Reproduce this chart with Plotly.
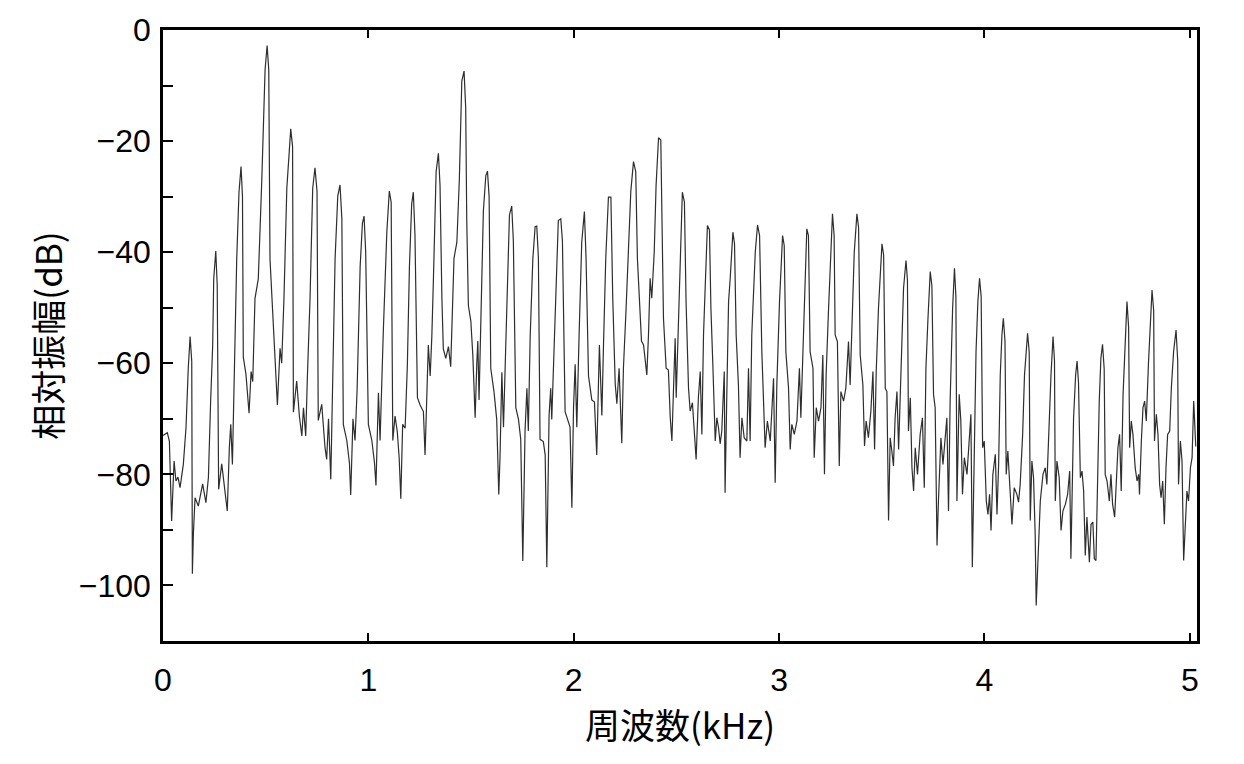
import plotly.graph_objects as go

# Frequency (kHz) and relative amplitude (dB)
freq_khz = [
    0.000, 0.021, 0.031, 0.042, 0.054, 0.063, 0.073, 0.083, 0.099, 0.112,
    0.123, 0.132, 0.140, 0.143, 0.148, 0.156, 0.172, 0.193, 0.209, 0.221,
    0.232, 0.242, 0.247, 0.257, 0.264, 0.271, 0.286, 0.297, 0.313, 0.323,
    0.330, 0.338, 0.346, 0.359, 0.370, 0.380, 0.387, 0.391, 0.404, 0.419,
    0.429, 0.437, 0.448, 0.464, 0.481, 0.497, 0.507, 0.515, 0.521, 0.537,
    0.557, 0.570, 0.578, 0.589, 0.603, 0.622, 0.631, 0.635, 0.651, 0.664,
    0.676, 0.684, 0.695, 0.703, 0.716, 0.729, 0.740, 0.750, 0.756, 0.773,
    0.789, 0.797, 0.806, 0.817, 0.827, 0.838, 0.851, 0.862, 0.871, 0.878,
    0.895, 0.908, 0.914, 0.925, 0.935, 0.945, 0.960, 0.971, 0.979, 0.987,
    1.000, 1.017, 1.030, 1.037, 1.049, 1.057, 1.073, 1.090, 1.102, 1.111,
    1.119, 1.130, 1.141, 1.150, 1.158, 1.167, 1.179, 1.190, 1.200, 1.211,
    1.219, 1.227, 1.239, 1.252, 1.268, 1.276, 1.283, 1.292, 1.301, 1.309,
    1.317, 1.330, 1.341, 1.349, 1.358, 1.365, 1.377, 1.390, 1.401, 1.406,
    1.417, 1.431, 1.443, 1.455, 1.466, 1.474, 1.479, 1.487, 1.499, 1.509,
    1.520, 1.528, 1.533, 1.539, 1.549, 1.560, 1.572, 1.580, 1.588, 1.596,
    1.612, 1.625, 1.635, 1.641, 1.650, 1.658, 1.666, 1.674, 1.687, 1.698,
    1.706, 1.718, 1.731, 1.742, 1.752, 1.763, 1.772, 1.779, 1.788, 1.801,
    1.812, 1.820, 1.828, 1.836, 1.852, 1.861, 1.869, 1.880, 1.888, 1.893,
    1.901, 1.914, 1.925, 1.937, 1.945, 1.958, 1.971, 1.982, 1.991, 1.999,
    2.007, 2.015, 2.026, 2.039, 2.052, 2.060, 2.072, 2.088, 2.101, 2.112,
    2.125, 2.137, 2.145, 2.156, 2.169, 2.181, 2.190, 2.202, 2.210, 2.221,
    2.234, 2.242, 2.254, 2.266, 2.278, 2.291, 2.302, 2.310, 2.320, 2.330,
    2.340, 2.356, 2.364, 2.372, 2.380, 2.392, 2.401, 2.413, 2.424, 2.429,
    2.437, 2.450, 2.461, 2.470, 2.478, 2.486, 2.494, 2.499, 2.510, 2.518,
    2.529, 2.539, 2.547, 2.559, 2.567, 2.578, 2.588, 2.596, 2.607, 2.616,
    2.624, 2.632, 2.640, 2.651, 2.661, 2.668, 2.678, 2.689, 2.697, 2.705,
    2.713, 2.721, 2.733, 2.737, 2.746, 2.754, 2.762, 2.775, 2.783, 2.791,
    2.802, 2.810, 2.819, 2.830, 2.843, 2.851, 2.859, 2.867, 2.884, 2.895,
    2.905, 2.916, 2.932, 2.943, 2.957, 2.968, 2.973, 2.981, 2.989, 3.002,
    3.017, 3.025, 3.033, 3.046, 3.054, 3.062, 3.074, 3.087, 3.099, 3.106,
    3.114, 3.122, 3.135, 3.143, 3.151, 3.165, 3.171, 3.181, 3.192, 3.204,
    3.213, 3.221, 3.229, 3.241, 3.252, 3.260, 3.268, 3.273, 3.284, 3.293,
    3.301, 3.314, 3.325, 3.338, 3.346, 3.355, 3.366, 3.379, 3.387, 3.395,
    3.408, 3.416, 3.424, 3.435, 3.447, 3.457, 3.465, 3.473, 3.484, 3.501,
    3.509, 3.517, 3.525, 3.533, 3.541, 3.549, 3.557, 3.565, 3.574, 3.582,
    3.593, 3.606, 3.618, 3.625, 3.630, 3.639, 3.647, 3.655, 3.663, 3.674,
    3.687, 3.698, 3.707, 3.715, 3.725, 3.736, 3.744, 3.752, 3.760, 3.769,
    3.776, 3.788, 3.798, 3.809, 3.817, 3.825, 3.833, 3.845, 3.854, 3.861,
    3.866, 3.877, 3.885, 3.893, 3.902, 3.915, 3.926, 3.934, 3.941, 3.950,
    3.959, 3.968, 3.976, 3.984, 3.991, 3.999, 4.009, 4.017, 4.025, 4.032,
    4.041, 4.053, 4.061, 4.069, 4.077, 4.085, 4.092, 4.100, 4.106, 4.114,
    4.126, 4.134, 4.145, 4.158, 4.166, 4.174, 4.186, 4.195, 4.210, 4.218,
    4.223, 4.231, 4.239, 4.247, 4.252, 4.261, 4.272, 4.285, 4.296, 4.304,
    4.312, 4.324, 4.334, 4.341, 4.345, 4.353, 4.364, 4.373, 4.382, 4.394,
    4.405, 4.415, 4.421, 4.428, 4.434, 4.444, 4.451, 4.458, 4.467, 4.475,
    4.483, 4.491, 4.499, 4.511, 4.519, 4.528, 4.535, 4.543, 4.551, 4.559,
    4.567, 4.575, 4.583, 4.588, 4.597, 4.608, 4.616, 4.624, 4.634, 4.642,
    4.650, 4.658, 4.666, 4.675, 4.686, 4.694, 4.702, 4.707, 4.715, 4.723,
    4.734, 4.743, 4.751, 4.755, 4.764, 4.772, 4.780, 4.788, 4.799, 4.808,
    4.816, 4.824, 4.828, 4.837, 4.845, 4.853, 4.860, 4.868, 4.876, 4.884,
    4.892, 4.902, 4.910, 4.921, 4.933, 4.941, 4.945, 4.954, 4.962, 4.970,
    4.978, 4.986, 4.994, 5.003, 5.011, 5.019, 5.029,
]

amp_db = [
    -73.0, -72.5, -74.0, -88.4, -77.6, -81.2, -80.5, -82.4, -78.2, -71.6,
    -60.9, -55.2, -59.7, -97.9, -90.7, -84.2, -85.7, -81.7, -85.1, -80.6,
    -66.8, -56.7, -44.8, -39.8, -46.0, -82.7, -78.1, -81.2, -86.6, -75.2,
    -71.0, -78.2, -62.7, -41.2, -29.2, -24.6, -30.0, -58.9, -62.0, -69.0,
    -61.5, -63.3, -48.3, -44.8, -27.1, -7.2, -2.8, -7.2, -41.2, -52.5,
    -67.5, -57.3, -60.0, -48.3, -28.5, -17.8, -21.0, -68.8, -63.2, -69.5,
    -73.1, -68.0, -73.1, -62.5, -48.3, -28.5, -24.8, -29.0, -70.3, -67.4,
    -75.2, -77.3, -70.0, -80.9, -62.5, -41.2, -29.9, -27.9, -34.0, -71.0,
    -73.9, -78.0, -83.7, -70.0, -73.9, -65.0, -42.6, -34.8, -33.5, -40.0,
    -71.0, -73.9, -78.0, -82.0, -65.3, -73.9, -54.0, -36.3, -29.0, -31.0,
    -73.9, -69.5, -72.4, -77.0, -84.4, -71.0, -71.7, -60.2, -42.6, -31.3,
    -29.2, -37.0, -66.2, -67.5, -68.7, -76.5, -68.0, -56.7, -62.3, -55.2,
    -44.6, -25.5, -22.2, -28.0, -48.2, -57.4, -59.1, -57.0, -60.6, -54.5,
    -41.1, -38.2, -26.9, -9.2, -7.4, -14.0, -34.0, -49.6, -52.4, -58.8,
    -69.8, -60.0, -56.0, -66.6, -48.2, -32.6, -26.2, -25.4, -30.0, -60.9,
    -65.2, -70.1, -83.6, -77.0, -61.6, -71.5, -60.9, -51.7, -33.3, -31.7,
    -38.0, -68.0, -70.1, -73.7, -95.6, -72.2, -64.5, -72.2, -55.2, -41.1,
    -35.4, -35.3, -41.0, -73.7, -74.1, -76.5, -96.7, -69.4, -64.5, -70.1,
    -60.9, -48.2, -34.3, -34.0, -38.0, -68.7, -70.1, -71.5, -86.0, -68.0,
    -60.2, -71.5, -55.2, -38.2, -32.7, -41.0, -62.3, -66.6, -67.0, -76.5,
    -56.7, -69.4, -56.7, -41.1, -30.1, -30.1, -48.2, -63.7, -67.3, -60.9,
    -74.4, -60.9, -51.0, -41.1, -29.0, -23.7, -25.5, -41.1, -49.6, -56.0,
    -56.7, -62.1, -54.9, -44.7, -48.3, -40.0, -28.0, -19.4, -19.8, -37.0,
    -51.9, -60.9, -61.2, -69.8, -74.0, -64.5, -55.5, -66.2, -51.9, -41.8,
    -29.2, -31.0, -48.9, -64.5, -68.6, -67.1, -73.4, -77.3, -66.2, -61.5,
    -72.8, -54.9, -46.5, -35.2, -36.0, -50.1, -60.9, -74.0, -69.8, -71.6,
    -74.5, -72.2, -61.5, -83.3, -64.5, -48.9, -44.7, -36.4, -38.5, -54.9,
    -63.9, -77.0, -69.8, -73.4, -74.0, -60.9, -74.0, -54.9, -40.0, -35.1,
    -37.0, -57.9, -75.2, -70.4, -74.0, -66.8, -62.7, -81.5, -63.9, -48.9,
    -37.0, -38.8, -57.9, -64.5, -75.5, -71.0, -72.8, -70.4, -60.9, -69.8,
    -60.9, -48.9, -35.8, -37.0, -57.9, -60.9, -77.0, -68.0, -70.4, -68.0,
    -58.5, -80.0, -62.1, -50.1, -38.2, -33.1, -37.0, -54.9, -56.1, -78.5,
    -65.1, -66.8, -64.5, -56.1, -63.9, -51.9, -40.0, -33.1, -35.5, -58.5,
    -63.9, -74.9, -70.4, -73.4, -68.6, -61.5, -75.5, -61.5, -50.1, -38.5,
    -40.5, -64.5, -65.1, -88.3, -73.4, -75.8, -78.5, -69.8, -65.1, -75.5,
    -62.1, -46.5, -41.5, -45.0, -72.2, -66.2, -78.8, -83.0, -75.2, -80.0,
    -72.8, -69.8, -82.4, -60.9, -51.9, -43.5, -46.0, -65.6, -68.0, -92.8,
    -84.8, -73.4, -78.2, -72.8, -69.8, -86.6, -66.8, -50.1, -42.9, -48.0,
    -84.8, -65.6, -70.4, -83.6, -77.0, -80.0, -72.8, -69.2, -96.7, -72.8,
    -57.9, -48.9, -44.7, -48.0, -75.2, -74.0, -84.8, -87.2, -83.6, -90.1,
    -80.0, -76.4, -87.2, -78.2, -62.1, -54.9, -51.9, -56.0, -80.0, -75.8,
    -84.8, -89.0, -82.4, -83.6, -85.0, -81.8, -72.8, -62.1, -54.6, -58.0,
    -88.3, -77.6, -80.6, -90.7, -103.6, -93.7, -84.8, -80.0, -78.8, -81.8,
    -72.8, -62.1, -55.2, -59.5, -84.8, -77.6, -80.6, -90.1, -86.6, -85.4,
    -83.6, -79.4, -95.2, -81.8, -69.8, -62.1, -59.6, -63.5, -80.6, -79.4,
    -83.0, -94.6, -87.7, -95.8, -89.0, -88.6, -95.2, -95.5, -77.6, -66.8,
    -59.1, -56.6, -61.0, -80.0, -81.2, -84.8, -80.0, -85.4, -87.7, -80.0,
    -75.2, -72.8, -83.0, -65.6, -56.1, -48.9, -53.5, -75.2, -70.4, -72.8,
    -78.8, -81.2, -80.0, -83.6, -74.0, -68.0, -66.8, -70.4, -59.7, -51.9,
    -46.8, -50.5, -74.0, -69.2, -72.8, -81.8, -84.2, -81.2, -89.0, -78.8,
    -72.8, -72.2, -64.5, -57.9, -54.0, -59.5, -81.8, -74.0, -77.6, -95.5,
    -88.3, -83.0, -84.8, -78.8, -77.0, -66.8, -75.0,
]

x_tick_vals = [0, 1, 2, 3, 4, 5]
x_tick_text = ["0", "1", "2", "3", "4", "5"]
y_tick_vals = [0, -10, -20, -30, -40, -50, -60, -70, -80, -90, -100]
y_tick_text = ["0", "", "\u221220", "", "\u221240", "", "\u221260", "", "\u221280", "", "\u2212100"]

fig = go.Figure()
fig.add_trace(go.Scatter(
    x=freq_khz, y=amp_db, mode="lines",
    line=dict(color="#2e2e2e", width=1.2),
    hoverinfo="skip", showlegend=False,
))

fig.update_layout(
    width=1244, height=764,
    margin=dict(l=163, r=47, t=27, b=123),
    paper_bgcolor="white", plot_bgcolor="white",
    font=dict(family="Liberation Sans, Arial, sans-serif", color="black", size=32),
)
fig.update_xaxes(
    range=[0, 5.035], tickvals=x_tick_vals, ticktext=x_tick_text,
    ticks="inside", ticklen=8, tickwidth=1.5, tickcolor="black",
    showline=True, linecolor="black", linewidth=2.5, mirror="ticks",
    showgrid=False, zeroline=False, ticklabelstandoff=9,
    tickfont=dict(size=32),
    title=dict(text="周波数(kHz)", standoff=8,
               font=dict(family="Noto Sans CJK JP", size=35)),
)
fig.update_yaxes(
    range=[-110, 0], tickvals=y_tick_vals, ticktext=y_tick_text,
    ticks="inside", ticklen=10, tickwidth=1.5, tickcolor="black",
    showline=True, linecolor="black", linewidth=2.5, mirror=True,
    showgrid=False, zeroline=False, ticklabelstandoff=3,
    tickfont=dict(size=32),
    title=dict(text="相対振幅(dB)", standoff=6,
               font=dict(family="Noto Sans CJK JP", size=35)),
)

fig.write_html("out.html")
